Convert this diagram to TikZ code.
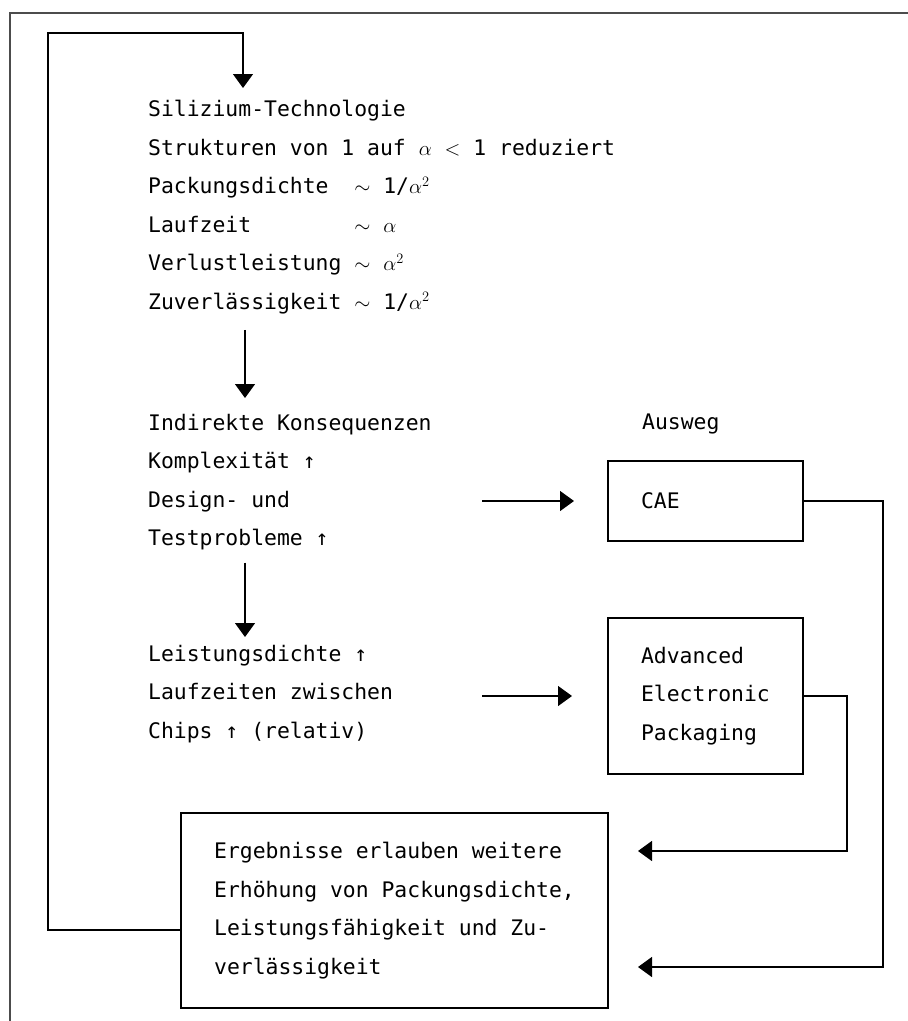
\documentclass[tikz,border=0pt]{standalone}
\usepackage{fontspec}
\setmonofont{DejaVu Sans Mono}
\usetikzlibrary{arrows.meta, positioning, calc}

\newcommand{\rowlab}[2]{\makebox[9.63em][l]{#1}#2}

\begin{document}
\begin{tikzpicture}[x=1pt, y=-1pt, >={Triangle[length=14pt, width=20pt]},
    font=\ttfamily\fontsize{21.4}{38.5}\selectfont,
    textblock/.style={anchor=north west, inner sep=0pt, align=left},
    box/.style={draw, line width=2pt, inner xsep=33pt, inner ysep=0pt, align=left},
    flow/.style={line width=1.3pt}]
\useasboundingbox (0,0) rectangle (908,1021);
\draw[gray!60!black, line width=1.5pt] (10,1021) -- (10,13) -- (908,13);
%
\node[textblock] (sili) at (148,100) {Silizium-Technologie\\
    Strukturen von 1 auf $\alpha$ $<$ 1 reduziert\\
    \rowlab{Packungsdichte}{$\sim$ 1/$\alpha^2$}\\
    \rowlab{Laufzeit}{$\sim$ $\alpha$}\\
    \rowlab{Verlustleistung}{$\sim$ $\alpha^2$}\\
    \rowlab{Zuverlässigkeit}{$\sim$ 1/$\alpha^2$}};
\node[textblock] (konseq) at (148,414) {Indirekte Konsequenzen\\
    Komplexität ↑\\ Design- und\\ Testprobleme ↑};
\node[textblock] (ausweg) at (642,414) {Ausweg};
\node[textblock] (leist) at (148,645) {Leistungsdichte ↑\\
    Laufzeiten zwischen\\ Chips ↑ (relativ)};
%
\node[box, text width=129pt, minimum height=80pt] (cae) at (705.5,501) {CAE};
\node[box, text width=129pt, minimum height=156pt] (aep) at (705.5,696)
    {Advanced\\ Electronic\\ Packaging};
\node[box, minimum width=427pt, minimum height=195pt] (ergeb) at (394.5,910.5)
    {Ergebnisse erlauben weitere\\ Erhöhung von Packungsdichte,\\
     Leistungsfähigkeit und Zu-\\ verlässigkeit};
%
\draw[flow, ->] ([shift={(97,16)}]sili.south west) -- ([shift={(97,-16)}]konseq.north west);
\draw[flow, ->] ([shift={(97,12)}]konseq.south west) -- ([shift={(97,-8)}]leist.north west);
\draw[flow, ->] ([xshift=-125pt]cae.west) -- ([xshift=-33pt]cae.west);
\draw[flow, ->] ([xshift=-125pt]aep.west) -- ([xshift=-35pt]aep.west);
%
\draw[flow, ->] (cae.east) -- (883,501) -- (883,967) -- ($(ergeb.east)+(29,56.5)$);
\draw[flow, ->] (aep.east) -- (847,696) -- (847,851) -- ($(ergeb.east)+(29,-59.5)$);
\draw[flow, ->] (ergeb.west |- 0,930) -- (48,930) -- (48,33) -- (243,33)
    -- ([yshift=12pt]sili.north -| 243,0);
\end{tikzpicture}
\end{document}
